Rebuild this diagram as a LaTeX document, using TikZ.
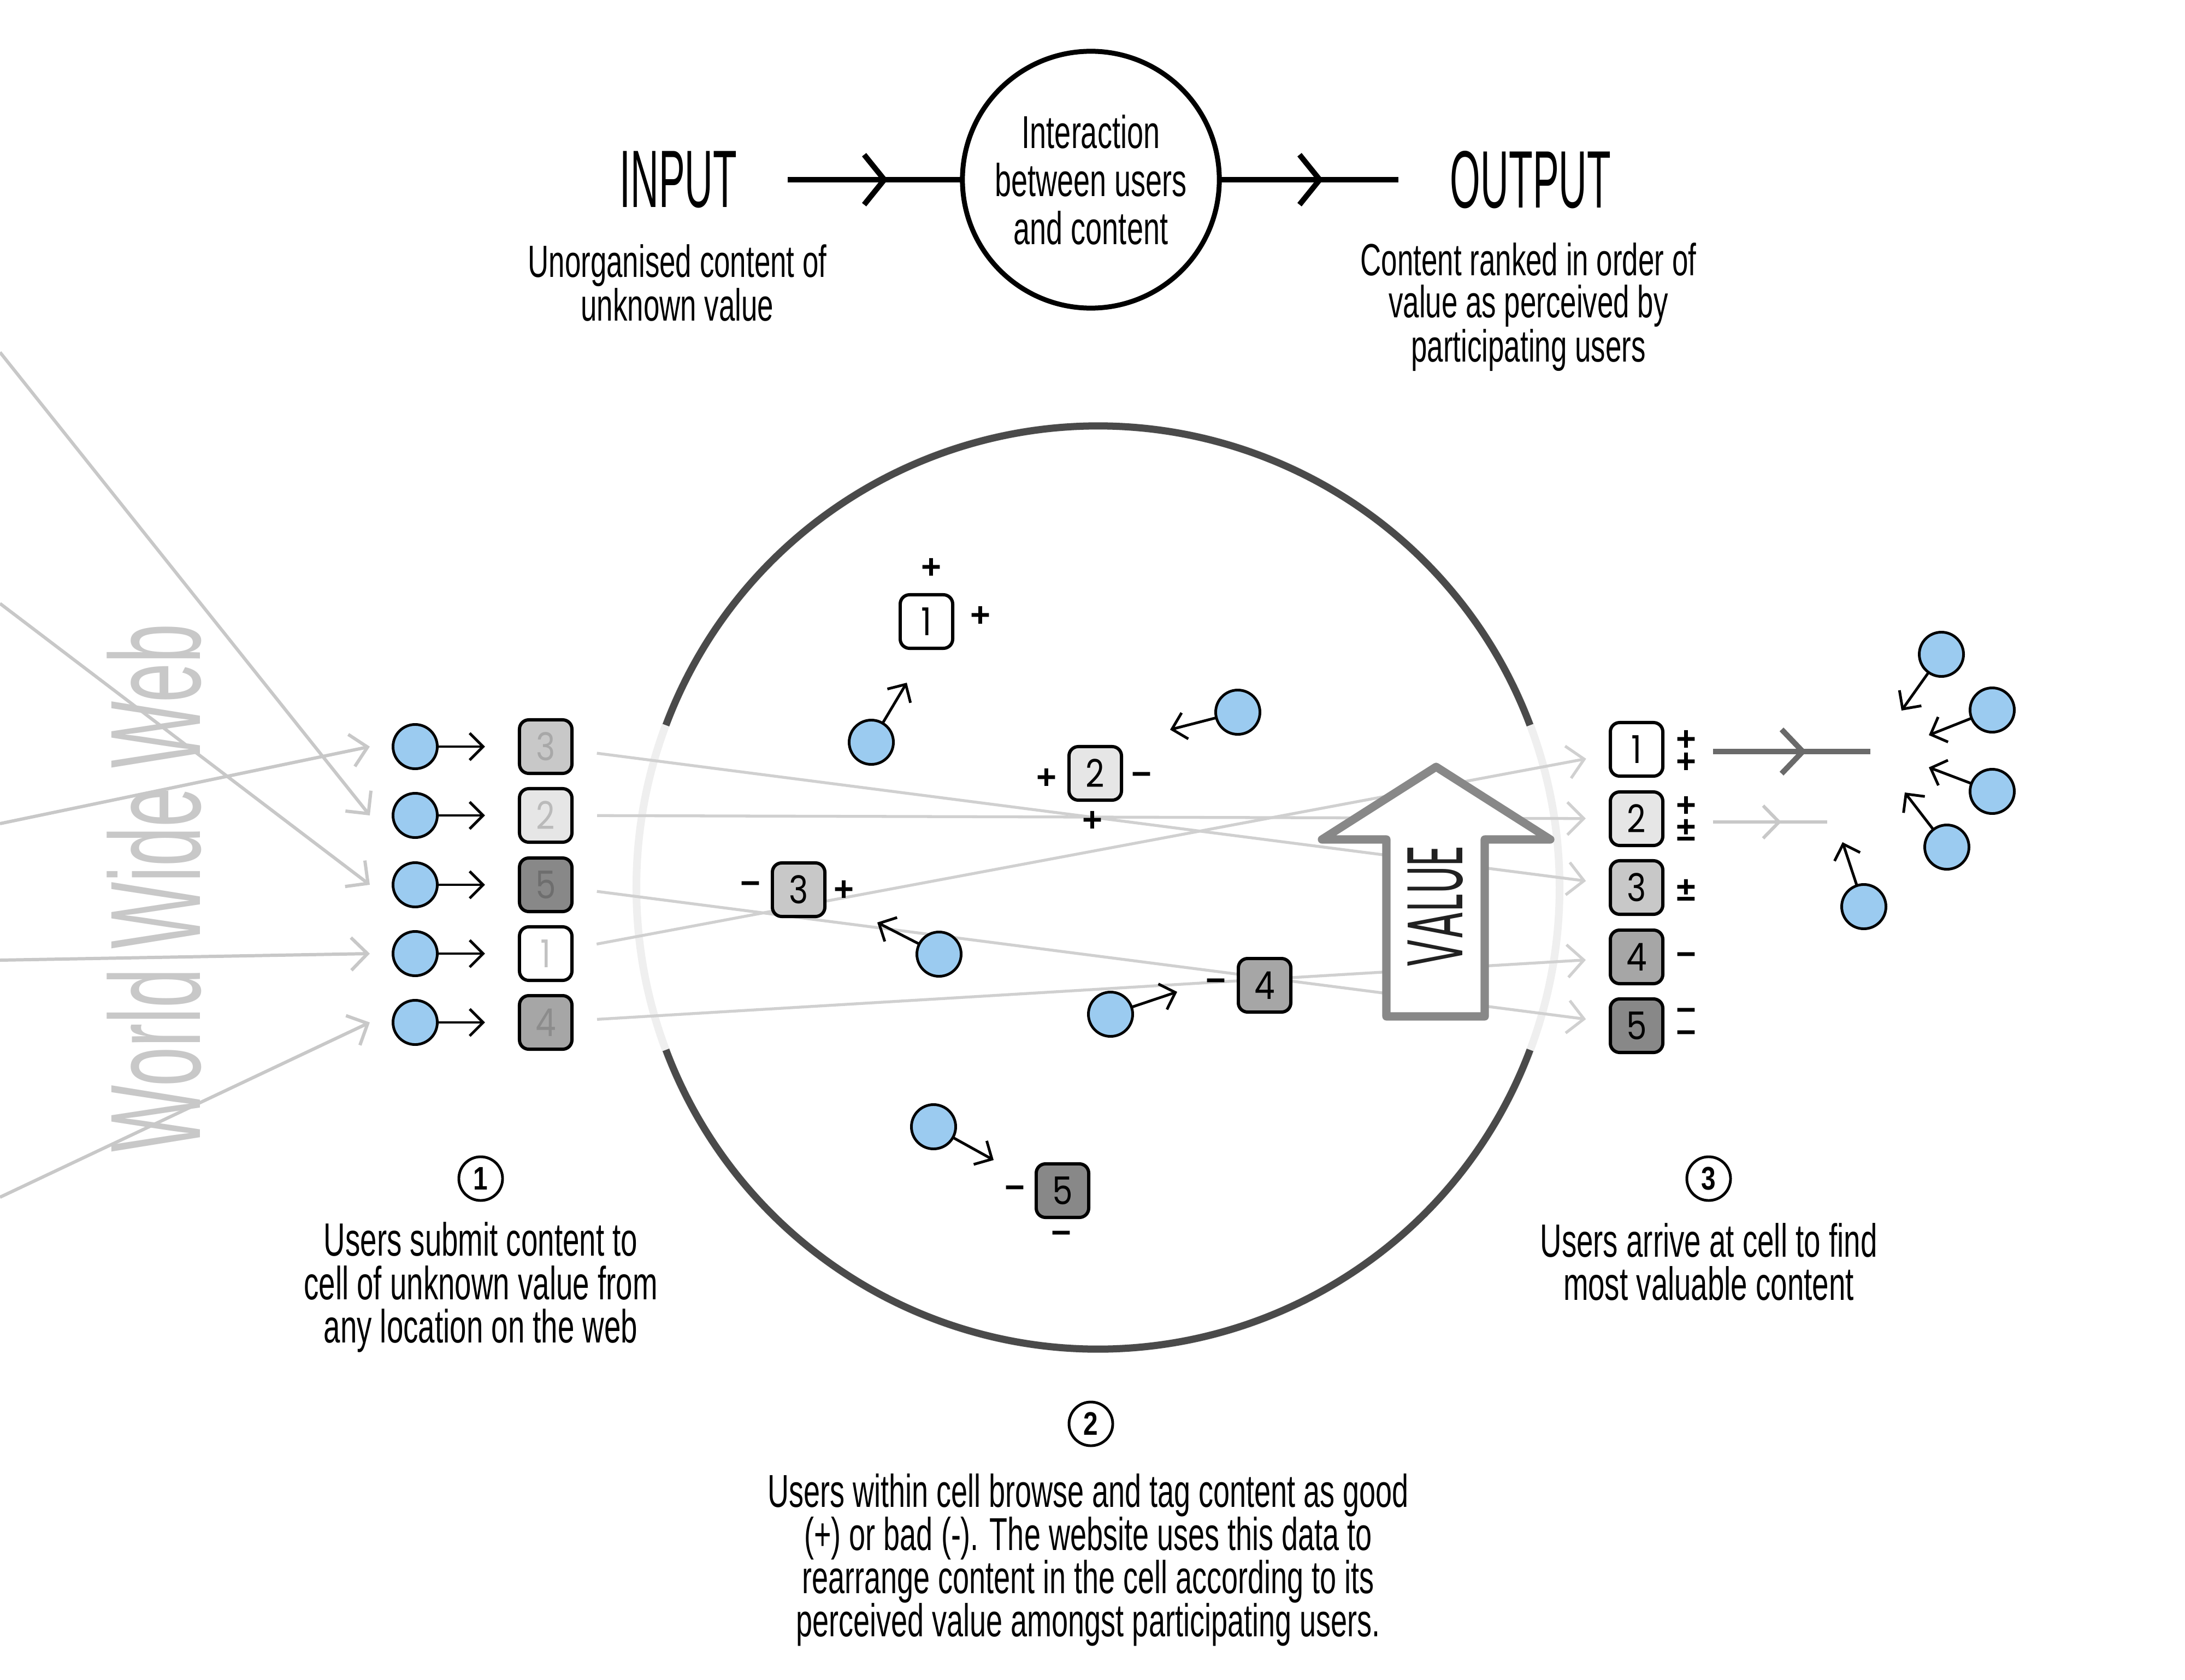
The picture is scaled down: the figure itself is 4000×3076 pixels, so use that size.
\documentclass[tikz,border=0pt]{standalone}
\usepackage{fontspec}
\setmainfont{Liberation Sans}[FakeStretch=0.64]
\newfontfamily\headfont{Liberation Sans}[FakeStretch=0.48]
\newfontfamily\webfont{Liberation Sans}[FakeStretch=0.55]
\newfontfamily\digitfont{Poppins}[FakeStretch=0.85]
\newfontfamily\valuefont{Poppins}[FakeStretch=0.52]
\newfontfamily\signfont{Liberation Sans}
\newfontfamily\stepfont{Liberation Sans}[FakeStretch=0.8]
\usetikzlibrary{arrows.meta,calc,decorations.markings}

\definecolor{userblue}{HTML}{9BCBF0}
\definecolor{webgray}{HTML}{C8C8C8}
\definecolor{linegray}{HTML}{D0D0D0}
\definecolor{ringdark}{HTML}{4A4A4A}
\definecolor{ringlight}{HTML}{EFEFEF}
\definecolor{valuegray}{HTML}{888888}
\definecolor{outdarkgray}{HTML}{6A6A6A}
\definecolor{fillA}{HTML}{FFFFFF}
\definecolor{fillB}{HTML}{E6E6E6}
\definecolor{fillC}{HTML}{C8C8C8}
\definecolor{fillD}{HTML}{A6A6A6}
\definecolor{fillE}{HTML}{888888}

\tikzset{
  every node/.style={inner sep=0pt, outer sep=0pt},
  user/.style={circle, draw=black, fill=userblue, line width=1.4pt, minimum size=0.81cm},
  card/.style={rectangle, rounded corners=0.17cm, draw=black, line width=1.7pt,
    minimum width=0.96cm, minimum height=0.98cm, font=\digitfont\fontsize{20}{20}\selectfont},
  sign/.style={font=\signfont\bfseries\fontsize{18}{18}\selectfont},
  signstack/.style={align=center, font=\signfont\bfseries\fontsize{18}{#1}\selectfont},
  push/.style={draw=black, line width=1.4pt, -{Straight Barb[length=7pt,width=14pt]}},
  feed/.style={draw=webgray, line width=1.7pt, -{Straight Barb[length=8.5pt,width=17pt]}},
  flow/.style={draw=linegray, line width=1.5pt, shorten <=0.46cm, shorten >=0.45cm,
    -{Straight Barb[length=8.5pt,width=17pt]}},
  topflow/.style={draw=black, line width=2.85pt, postaction={decorate},
    decoration={markings, mark=at position #1 with {\arrow{Straight Barb[length=10.5pt,width=26pt]}}}},
  outdark/.style={draw=outdarkgray, line width=2.85pt, postaction={decorate},
    decoration={markings, mark=at position #1 with {\arrow{Straight Barb[length=11pt,width=23pt]}}}},
  outlight/.style={draw=webgray, line width=1.7pt, postaction={decorate},
    decoration={markings, mark=at position #1 with {\arrow{Straight Barb[length=8.3pt,width=17pt]}}}},
  headtext/.style={font=\headfont\fontsize{42.4}{50}\selectfont},
  subtext/.style={align=center, font=\fontsize{23.5}{21.9}\selectfont},
  hub/.style={circle, draw=black, line width=2.56pt, minimum size=4.70cm, align=center,
    font=\fontsize{24}{25}\selectfont},
  caption/.style={align=center, font=\fontsize{24.3}{22.5}\selectfont},
  stepmark/.style={circle, draw=black, line width=1.4pt, minimum size=0.80cm,
    font=\stepfont\bfseries\fontsize{17}{17}\selectfont},
}

\begin{document}
\begin{tikzpicture}[x=0.01cm, y=-0.01cm]
\useasboundingbox (0,0) rectangle (4000,3076);
\fill[white] (0,0) rectangle (4000,3076);

% ---- the cell: a ring, faint where content passes through ----
\coordinate (cellc) at (2010,1625);
\draw[ringlight, line width=4pt] (cellc) circle[radius=845];
\draw[ringdark, line width=3.7pt] ($(cellc)+(20.6:845)$) arc[start angle=20.6, end angle=159.4, radius=845];
\draw[ringdark, line width=3.7pt] ($(cellc)+(200.6:845)$) arc[start angle=200.6, end angle=339.4, radius=845];

% ---- the web ----
\node[rotate=90, anchor=base, text=webgray, font=\webfont\fontsize{67}{67}\selectfont] (web) at (366,1626) {World Wide Web};

% ---- submitting users and their content ----
\foreach \i/\y in {1/1367,2/1493,3/1620,4/1746,5/1872} {
  \node[user] (lu\i) at (760,\y) {};
  \coordinate (ft\i) at (677,\y);
}
\node[card, fill=fillC, text=black!34] (lb1) at (999,1367) {3};
\node[card, fill=fillB, text=black!27] (lb2) at (999,1493) {2};
\node[card, fill=fillE, text=black!57] (lb3) at (999,1620) {5};
\node[card, fill=fillA, text=black!24] (lb4) at (999,1746) {1};
\node[card, fill=fillD, text=black!45] (lb5) at (999,1872) {4};

\coordinate (w1) at (0,1508);
\coordinate (w2) at (0,645);
\coordinate (w3) at (0,1105);
\coordinate (w4) at (0,1758);
\coordinate (w5) at (0,2192);
\foreach \i in {1,...,5} {
  \draw[feed] (w\i) -- (ft\i);
  \draw[push, shorten >=0.63cm] (lu\i) -- (lb\i);
}

% ---- ranked content leaving the cell ----
\node[card, fill=fillA] (rb1) at (2996,1372) {1};
\node[card, fill=fillB] (rb2) at (2996,1499) {2};
\node[card, fill=fillC] (rb3) at (2996,1625) {3};
\node[card, fill=fillD] (rb4) at (2996,1752) {4};
\node[card, fill=fillE] (rb5) at (2996,1878) {5};

\draw[flow] (lb1) -- (rb3);
\draw[flow] (lb2) -- (rb2);
\draw[flow] (lb3) -- (rb5);
\draw[flow] (lb4) -- (rb1);
\draw[flow] (lb5) -- (rb4);

% ---- value arrow ----
\draw[valuegray, fill=white, line width=4.3pt, line join=round]
  (2538,1861) -- (2538,1537) -- (2420,1537) -- (2629,1404) -- (2838,1537)
  -- (2718,1537) -- (2718,1861) -- cycle;
\node[rotate=90, text=black!87, font=\valuefont\fontsize{41}{41}\selectfont] (valuelabel) at (2628,1659) {VALUE};

% ---- content being tagged inside the cell ----
\node[card, fill=fillA] (ib1) at (1696,1138) {1};
\node[card, fill=fillB] (ib2) at (2005,1416) {2};
\node[card, fill=fillC] (ib3) at (1462,1629) {3};
\node[card, fill=fillD] (ib4) at (2315,1804) {4};
\node[card, fill=fillE] (ib5) at (1945,2180) {5};

\node[sign] (t1a) at (1705,1041) {+};
\node[sign] (t1b) at (1795,1129) {+};
\node[sign] (t2a) at (1916,1426) {+};
\node[sign] (t2b) at (2090,1426) {−};
\node[sign] (t2c) at (2000,1504) {+};
\node[sign] (t3a) at (1374,1626) {−};
\node[sign] (t3b) at (1545,1631) {+};
\node[sign] (t4a) at (2226,1804) {−};
\node[sign] (t5a) at (1858,2183) {−};
\node[sign] (t5b) at (1943,2266) {−};

\node[user] (iuA) at (1595,1359) {};
\node[user] (iuB) at (2266,1304) {};
\node[user] (iuC) at (1719,1747) {};
\node[user] (iuD) at (2033,1857) {};
\node[user] (iuE) at (1709,2063) {};
\coordinate (itA) at (1660,1250);
\coordinate (itB) at (2142,1336);
\coordinate (itC) at (1606,1689);
\coordinate (itD) at (2155,1816);
\coordinate (itE) at (1819,2124);
\foreach \u in {A,B,C,D,E} { \draw[push] (iu\u) -- (it\u); }

% ---- tags on the ranked content ----
\node[signstack=11.7] (r1) at (3087,1376) {+\\+};
\node[signstack=12.5] (r2) at (3087,1499) {+\\±};
\node[sign] (r3) at (3087,1630) {±};
\node[sign] (r4) at (3087,1756) {−};
\node[signstack=11.7] (r5) at (3087,1879) {−\\−};

% ---- output to arriving users ----
\coordinate (o1s) at (3136,1376);
\coordinate (o1e) at (3424,1376);
\coordinate (o2s) at (3136,1505);
\coordinate (o2e) at (3345,1505);
\draw[outdark=0.594] (o1s) -- (o1e);
\draw[outlight=0.598] (o2s) -- (o2e);

\node[user] (ru1) at (3554,1198) {};
\node[user] (ru2) at (3647,1300) {};
\node[user] (ru3) at (3647,1449) {};
\node[user] (ru4) at (3564,1551) {};
\node[user] (ru5) at (3412,1660) {};
\coordinate (rt1) at (3481,1301);
\coordinate (rt2) at (3531,1346);
\coordinate (rt3) at (3531,1405);
\coordinate (rt4) at (3487,1451);
\coordinate (rt5) at (3373,1542);
\foreach \i in {1,...,5} { \draw[push] (ru\i) -- (rt\i); }

% ---- input / interaction / output ----
\node[headtext] (inlabel) at (1242,329) {INPUT};
\node[hub] (hub) at (1997,329) {Interaction\\between users\\and content};
\node[headtext] (outlabel) at (2802,329) {OUTPUT};
\coordinate (inarrow) at (1442,329);
\coordinate (outarrow) at (2560,329);
\draw[topflow=0.573] (inarrow) -- (hub.west);
\draw[topflow=0.58] (hub.east) -- (outarrow);
\node[subtext] (indesc) at (1240,518) {Unorganised content of\\unknown value};
\node[subtext] (outdesc) at (2798,562) {Content ranked in order of\\value as perceived by\\participating users};

% ---- steps ----
\node[stepmark] (n1) at (880,2158) {1};
\node[caption] (cap1) at (880,2357) {Users submit content to\\cell of unknown value from\\any location on the web};
\node[stepmark] (n2) at (1997,2607) {2};
\node[caption, font=\fontsize{24}{22.5}\selectfont] (cap2) at (1992,2856) {Users within cell browse and tag content as good\\(+) or bad (-). The website uses this data to\\rearrange content in the cell according to its\\perceived value amongst participating users.};
\node[stepmark] (n3) at (3128,2158) {3};
\node[caption] (cap3) at (3128,2310) {Users arrive at cell to find\\most valuable content};
\end{tikzpicture}
\end{document}
